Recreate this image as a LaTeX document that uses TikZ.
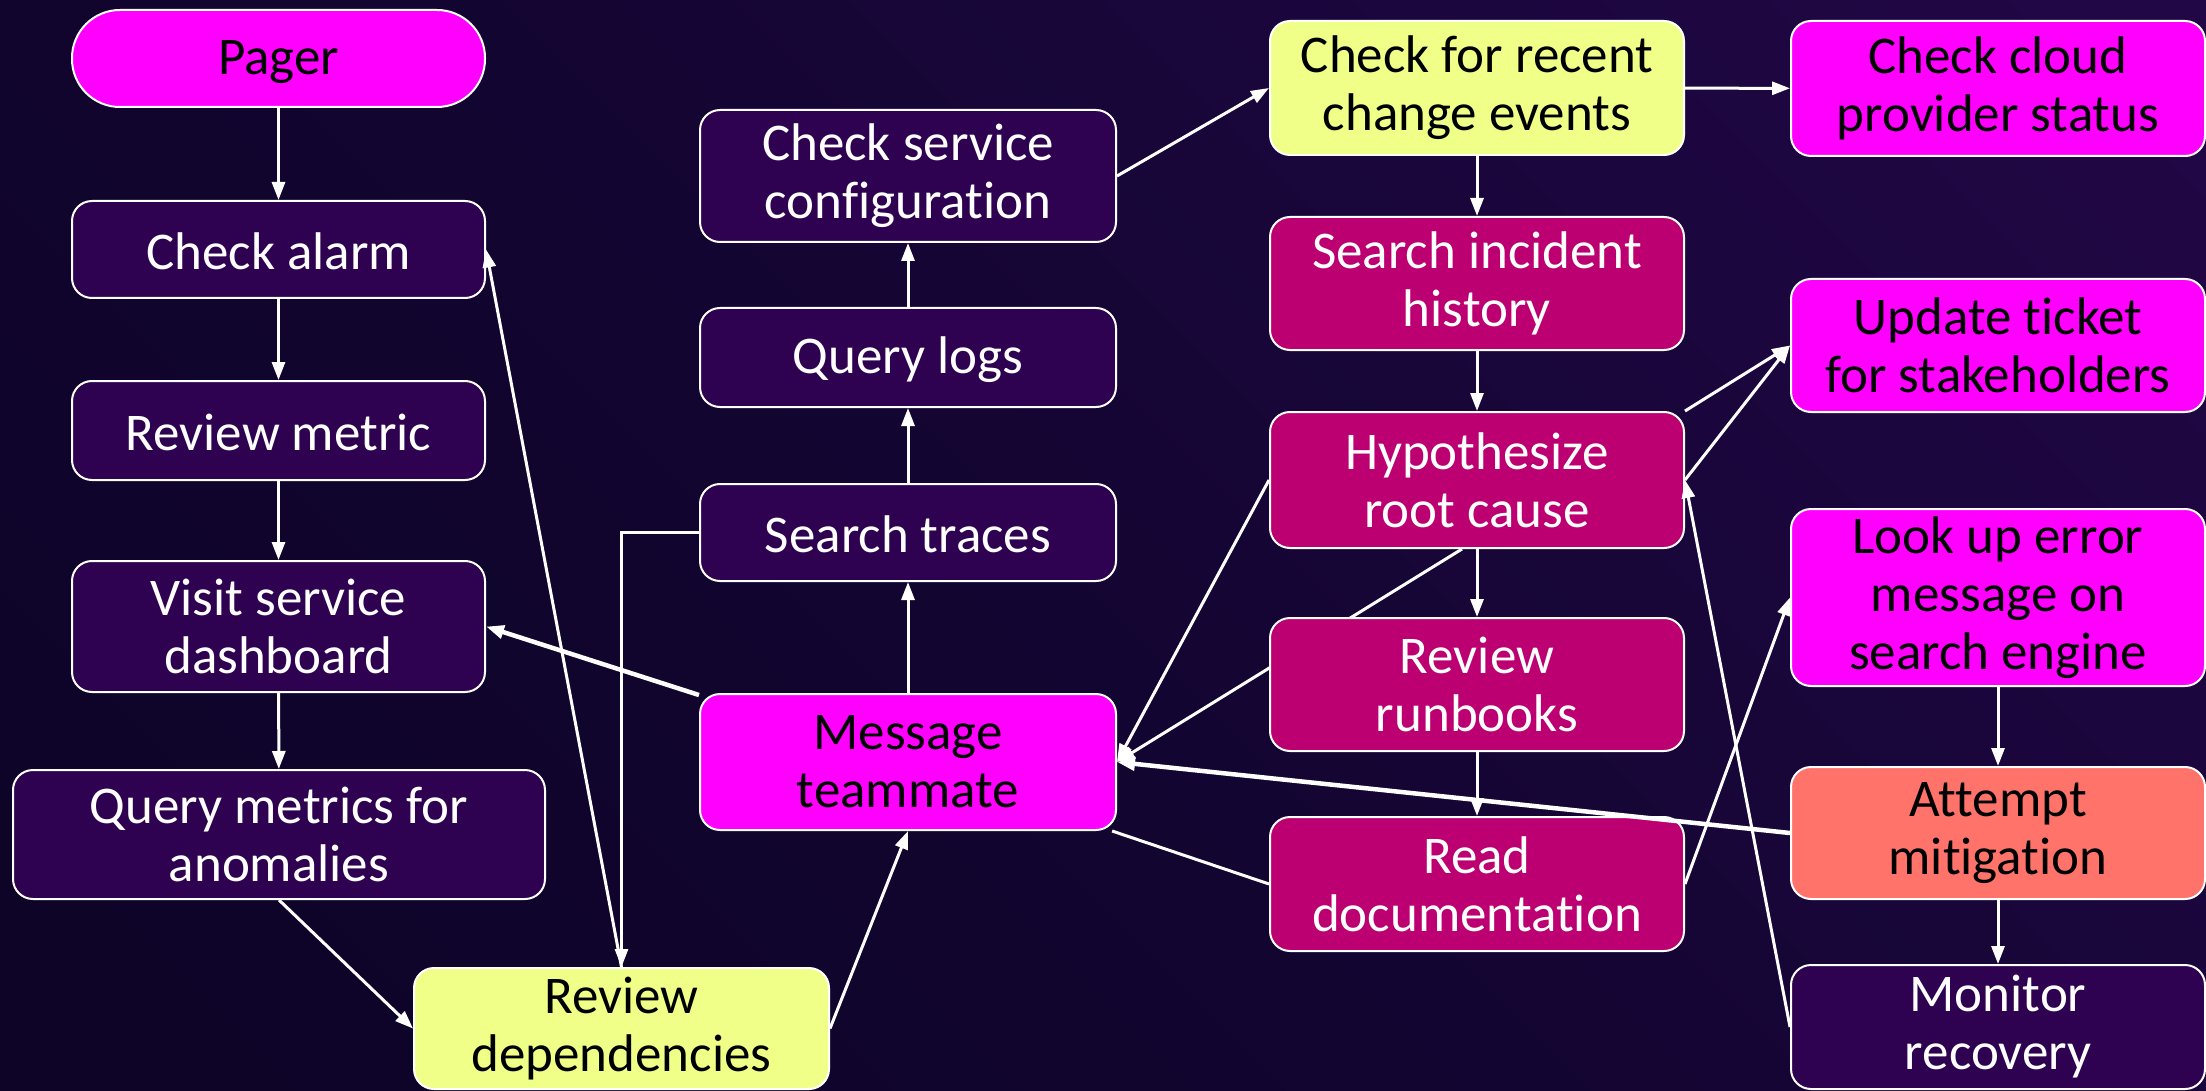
\documentclass[tikz,border=0pt]{standalone}
\usepackage{fontspec}
\setmainfont{Carlito}[Ligatures=NoCommon]
\usetikzlibrary{arrows.meta}
\definecolor{bgdark}{HTML}{0A0322}
\definecolor{bgmid}{HTML}{120530}
\definecolor{bgpurple}{HTML}{28084F}
\definecolor{dpurple}{HTML}{2E0250}
\definecolor{nmag}{HTML}{FF00FF}
\definecolor{nyellow}{HTML}{F0FF88}
\definecolor{ncrimson}{HTML}{BC0072}
\definecolor{nsalmon}{HTML}{FF736B}
\pgfdeclareverticalshading{bgshade}{100bp}{color(0bp)=(bgdark); color(45bp)=(bgmid); color(100bp)=(bgpurple)}
\pgfdeclarelayer{bg}
\pgfdeclarelayer{mid}
\pgfsetlayers{bg,mid,main}
\begin{document}
\begin{tikzpicture}[x=1pt,y=-1pt,
  box/.style={draw=white, line width=2pt, rounded corners=20pt, align=center, inner sep=0pt,
    font=\fontsize{53}{58}\selectfont, execute at begin node={\rule{0pt}{41pt}}},
  dk/.style={box, fill=dpurple, text=white},
  mg/.style={box, fill=nmag, text=black},
  yl/.style={box, fill=nyellow, text=black},
  cr/.style={box, fill=ncrimson, text=white},
  sa/.style={box, fill=nsalmon, text=black},
  arr/.style={draw=white, line width=3pt, -{Triangle[length=18pt,width=13pt]}},
  thickarr/.style={arr, line width=4.5pt},
  ln/.style={draw=white, line width=3pt}]
\useasboundingbox (0,0) rectangle (2206,1091);
\begin{pgfonlayer}{bg}
\shade[shading=bgshade, shading angle=-45] (0,0) rectangle (2206,1091);
\end{pgfonlayer}

% left column
\node[mg, rounded corners=48pt, minimum width=413pt, minimum height=97pt] (pager) at (278.5,58.5) {Pager};
\node[dk, minimum width=413pt, minimum height=97pt] (alarm) at (278.5,249.5) {Check alarm};
\node[dk, minimum width=413pt, minimum height=99pt] (metric) at (278.5,430.5) {Review metric};
\node[dk, minimum width=413pt, minimum height=131pt] (dash) at (278.5,626.5) {Visit service\\dashboard};
\node[dk, minimum width=532pt, minimum height=129pt] (anom) at (279,834.5) {Query metrics for\\anomalies};
\node[yl, minimum width=415pt, minimum height=121pt] (deps) at (621.5,1028.5) {Review\\dependencies};
% middle column
\node[dk, minimum width=416pt, minimum height=132pt] (svccfg) at (908,176) {Check service\\configuration};
\node[dk, minimum width=416pt, minimum height=99pt] (logs) at (908,357.5) {Query logs};
\node[dk, minimum width=416pt, minimum height=97pt] (traces) at (908,532.5) {Search traces};
\node[mg, minimum width=416pt, minimum height=136pt] (msg) at (908,762) {Message\\teammate};
% third column
\node[yl, minimum width=414pt, minimum height=134pt] (recent) at (1477,88) {Check for recent\\change events};
\node[cr, minimum width=414pt, minimum height=133pt] (incident) at (1477,283.5) {Search incident\\history};
\node[cr, minimum width=414pt, minimum height=136pt] (hypo) at (1477,480) {Hypothesize\\root cause};
\node[cr, minimum width=414pt, minimum height=133pt] (runbooks) at (1477,684.5) {Review\\runbooks};
\node[cr, minimum width=414pt, minimum height=134pt] (readdoc) at (1477,884) {Read\\documentation};
% fourth column
\node[mg, minimum width=414pt, minimum height=135pt] (cloud) at (1998,88.5) {Check cloud\\provider status};
\node[mg, minimum width=414pt, minimum height=133pt] (ticket) at (1998,345.5) {Update ticket\\for stakeholders};
\node[mg, minimum width=414pt, minimum height=177pt] (lookup) at (1998,597.5) {Look up error\\message on\\search engine};
\node[sa, minimum width=414pt, minimum height=132pt] (attempt) at (1998,833) {Attempt\\mitigation};
\node[dk, minimum width=414pt, minimum height=124pt] (monitor) at (1998,1027) {Monitor\\recovery};

% connector hidden behind Review runbooks
\begin{pgfonlayer}{mid}
\draw[arr] ([xshift=-15pt]hypo.south) -- (msg.east);
\end{pgfonlayer}

% connectors
\draw[arr] (pager) -- (alarm);
\draw[arr] (alarm) -- (metric);
\draw[arr] (metric) -- (dash);
\draw[arr] (dash) -- (anom);
\draw[arr] (anom.south) -- (deps.west);
\draw[arr] (deps.east) -- (msg.south);
\draw[thickarr] (msg) -- (dash.east);
\draw[arr] (deps.north) -- (alarm.east);
\draw[arr] (traces.west) -| (deps.north);
\draw[arr] (msg) -- (traces);
\draw[arr] (traces) -- (logs);
\draw[arr] (logs) -- (svccfg);
\draw[arr] (svccfg.east) -- (recent.west);
\draw[arr] (recent) -- (cloud);
\draw[arr] (recent) -- (incident);
\draw[arr] (incident) -- (hypo);
\draw[arr] (hypo) -- (runbooks);
\draw[arr] (runbooks) -- (readdoc);
\draw[arr] (hypo.north east) -- (ticket.west);
\draw[arr] (hypo.east) -- (ticket.west);
\draw[arr] (monitor.west) -- (hypo.east);
\draw[arr] (hypo.west) -- (msg.east);
\draw[thickarr] (attempt.west) -- (msg.east);
\draw[ln] (msg) -- (readdoc.west);
\draw[arr] (readdoc.east) -- (lookup.west);
\draw[arr] (lookup) -- (attempt);
\draw[arr] (attempt) -- (monitor);
\end{tikzpicture}
\end{document}
